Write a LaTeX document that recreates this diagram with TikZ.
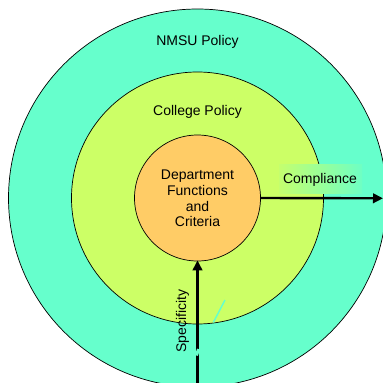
\documentclass[tikz,border=0pt]{standalone}
\usepackage{fontspec}
\setmainfont{Liberation Sans}
\usetikzlibrary{arrows.meta}
\definecolor{outerc}{HTML}{66FFCC}
\definecolor{midc}{HTML}{CCFF66}
\definecolor{innerc}{HTML}{FFCC66}
\begin{document}
\begin{tikzpicture}[x=1pt,y=-1pt,
  ring/.style={circle,draw=black,line width=0.7pt,inner sep=0pt},
  lab/.style={font=\fontsize{14}{15.6}\selectfont,inner sep=0pt,align=center},
  arr/.style={line width=2.4pt,-{Triangle[length=10pt,width=9.5pt]}}]
\useasboundingbox (0,0) rectangle (383,383);
\clip (0,0) rectangle (383,383);
\node[ring,fill=outerc,minimum size=378pt] (nmsu) at (197.5,198) {};
\node[ring,fill=midc,minimum size=252pt] (college) at (197.5,198) {};
\node[ring,fill=innerc,minimum size=126pt,lab] (dept) at (197.5,198) {};
\node[lab] (nmsutext) at (197.5,41.5) {NMSU Policy};
\node[lab] (coltext) at (197.5,112) {College Policy};
\node[lab] (depttext) at (197.5,198.5) {Department\\Functions\\and\\Criteria};
\shade[left color=midc!92!outerc, right color=outerc!92!midc] (279,164) rectangle (362,193);
\node[lab] (comp) at (320,180) {Compliance};
\node[lab,rotate=90] (spec) at (182.5,321) {Specificity};
\coordinate (cend) at (383,198.3);
\coordinate (sbot) at (197.5,383);
\draw[arr] (dept.east) -- (cend);
\draw[arr,shorten >=-1pt] (sbot) -- (dept.south);
\draw[outerc,line width=1.5pt] (213.3,322.5) -- (225,300);
\draw[outerc,line width=3pt] (198.5,349) -- (196.5,355.5);
\end{tikzpicture}
\end{document}
